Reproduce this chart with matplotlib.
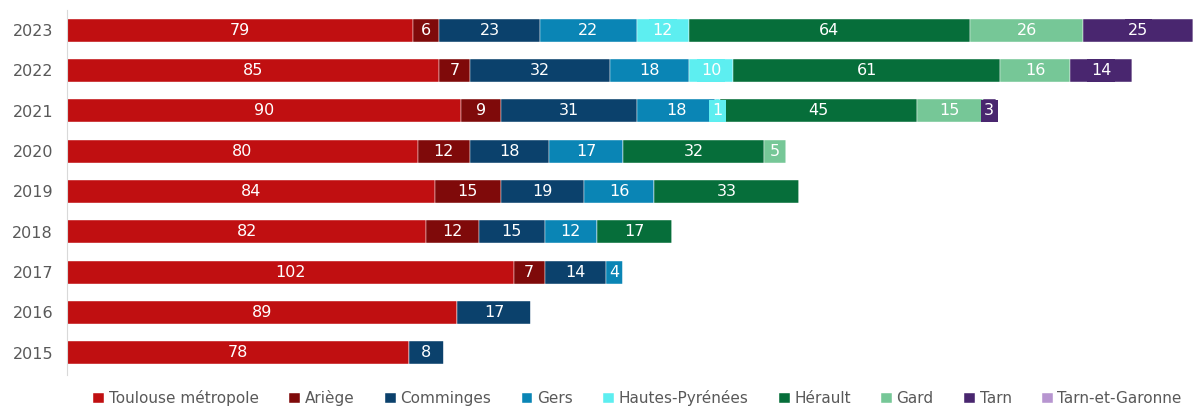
import matplotlib.pyplot as plt
import numpy as np

years = ["2015", "2016", "2017", "2018", "2019", "2020", "2021", "2022", "2023"]
territories = ["Toulouse métropole", "Ariège", "Comminges", "Gers", "Hautes-Pyrénées",
               "Hérault", "Gard", "Tarn", "Tarn-et-Garonne"]
colors = ["#C00F11", "#7F0A0A", "#0B416C", "#0A85B5", "#5DEEF0",
          "#066E3A", "#76C797", "#49266F", "#B795D0"]

# one list per territory, values for 2015..2023
toulouse = [78, 89, 102, 82, 84, 80, 90, 85, 79]
ariege = [0, 0, 7, 12, 15, 12, 9, 7, 6]
comminges = [8, 17, 14, 15, 19, 18, 31, 32, 23]
gers = [0, 0, 4, 12, 16, 17, 18, 18, 22]
hautes_pyrenees = [0, 0, 0, 0, 0, 0, 1, 10, 12]
herault = [0, 0, 0, 17, 33, 32, 45, 61, 64]
gard = [0, 0, 0, 0, 0, 5, 15, 16, 26]
tarn = [0, 0, 0, 0, 0, 0, 3, 14, 25]
tarn_et_garonne = [0, 0, 0, 0, 0, 0, 0, 0, 0]

series = [toulouse, ariege, comminges, gers, hautes_pyrenees,
          herault, gard, tarn, tarn_et_garonne]

plt.rcParams['font.family'] = ['DejaVu Sans']

fig = plt.figure(figsize=(11.94, 4.08), dpi=100)
ax = fig.add_axes([67 / 1194, 33 / 408, 1126 / 1194, 365 / 408])

y = np.arange(len(years))
left = np.zeros(len(years))
for name, vals, col in zip(territories, series, colors):
    vals = np.array(vals, dtype=float)
    ax.barh(y, vals, left=left, height=0.57, color=col, label=name,
            edgecolor="#ffffff", linewidth=0.3)
    for yi, v, l in zip(y, vals, left):
        if v > 0:
            box = None
            if name in ("Hautes-Pyrénées", "Tarn"):
                box = dict(facecolor=col, edgecolor="none", pad=2.5)
            ax.text(l + v / 2, yi, f"{int(v)}", ha="center", va="center",
                    color="white", fontsize=11.5, bbox=box)
    left += vals

ax.set_xlim(0, 257)
ax.set_ylim(-0.55, 8.5)
ax.set_yticks(y)
ax.set_yticklabels(years, color="#595959", fontsize=11.5)
ax.tick_params(axis="y", length=0, pad=10)
ax.set_xticks([])
for s in ["top", "right", "bottom"]:
    ax.spines[s].set_visible(False)
ax.spines["left"].set_color("#d9d9d9")

fig.legend(loc="center", bbox_to_anchor=(0.534, 0.024), ncol=9, frameon=False,
           handlelength=0.7, handleheight=0.7, handletextpad=0.3, columnspacing=2.0,
           fontsize=11, labelcolor="#595959", borderpad=0.2)

plt.savefig("out.png", dpi=100)
